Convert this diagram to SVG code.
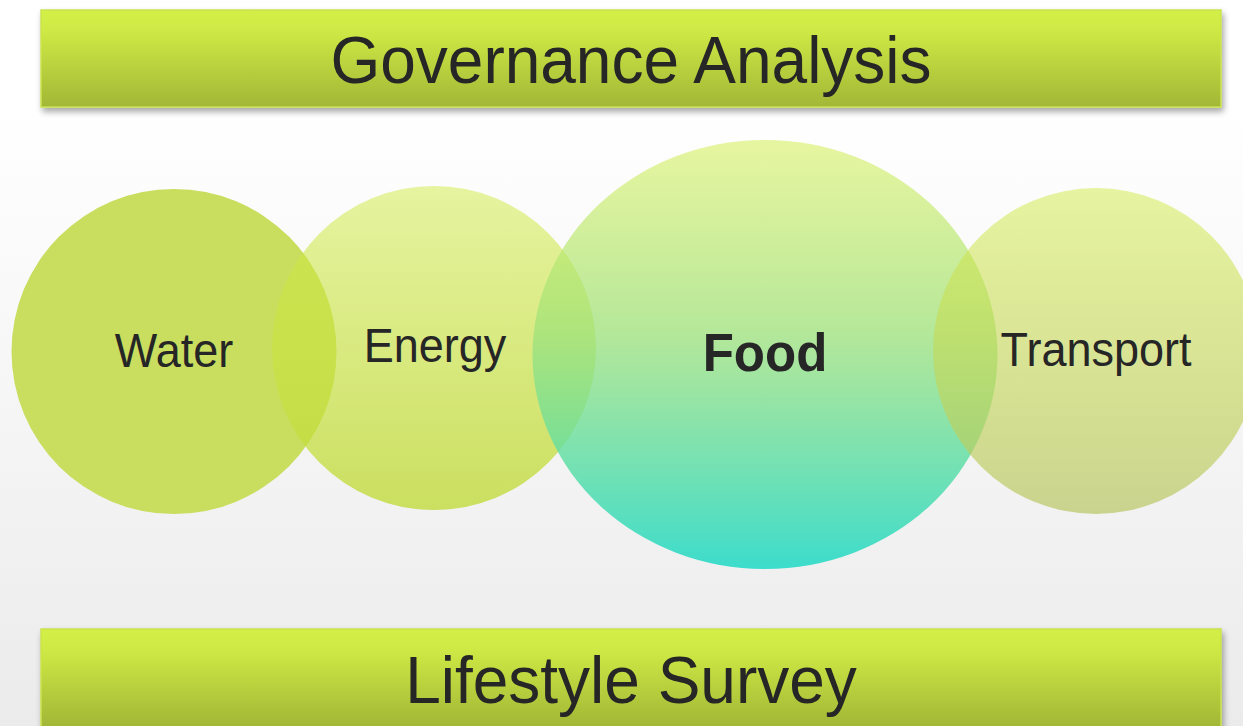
<svg xmlns="http://www.w3.org/2000/svg" width="1243" height="726" viewBox="0 0 1243 726">
  <defs>
    <linearGradient id="bg" x1="0" y1="0" x2="0" y2="1">
      <stop offset="0" stop-color="#ffffff"/>
      <stop offset="0.15" stop-color="#ffffff"/>
      <stop offset="1" stop-color="#ebebeb"/>
    </linearGradient>
    <linearGradient id="bar" x1="0" y1="0" x2="0" y2="1">
      <stop offset="0" stop-color="#d3ef46"/>
      <stop offset="0.2" stop-color="#cfea45"/>
      <stop offset="1" stop-color="#a2b736"/>
    </linearGradient>
    <linearGradient id="barB" x1="0" y1="629" x2="0" y2="726" gradientUnits="userSpaceOnUse">
      <stop offset="0" stop-color="#d3ef46"/>
      <stop offset="0.2" stop-color="#cfea45"/>
      <stop offset="1" stop-color="#a2b736"/>
    </linearGradient>
    <linearGradient id="gEnergy" x1="0" y1="0" x2="0" y2="1">
      <stop offset="0" stop-color="#d0ea44" stop-opacity="0.5"/>
      <stop offset="1" stop-color="#c1da3b" stop-opacity="0.8"/>
    </linearGradient>
    <linearGradient id="gFood" x1="0" y1="0" x2="0" y2="1">
      <stop offset="0" stop-color="#d7ef61" stop-opacity="0.6"/>
      <stop offset="0.45" stop-color="#9ee27a" stop-opacity="0.75"/>
      <stop offset="1" stop-color="#28dac8" stop-opacity="0.9"/>
    </linearGradient>
    <linearGradient id="gTransport" x1="0" y1="0" x2="0" y2="1">
      <stop offset="0" stop-color="#d0ea44" stop-opacity="0.5"/>
      <stop offset="1" stop-color="#b9c663" stop-opacity="0.7"/>
    </linearGradient>
    <filter id="shadow" x="-5%" y="-20%" width="110%" height="150%">
      <feDropShadow dx="2" dy="4" stdDeviation="3" flood-color="#000" flood-opacity="0.35"/>
    </filter>
  </defs>
  <style>
    .lbl { font-family: "Liberation Sans", Arial, sans-serif; fill: #262626; }
    .big { font-size: 64px; }
    .mid { font-size: 45px; }
    .bold { font-size: 51px; font-weight: bold; }
    .barrect { stroke: #c9e34f; stroke-width: 1.5; }
  </style>

  <rect x="0" y="0" width="1243" height="726" fill="url(#bg)"/>

  <g id="governance">
    <rect class="barrect" x="41" y="10" width="1180" height="97" fill="url(#bar)" filter="url(#shadow)"/>
    <text class="lbl big" text-anchor="middle" transform="translate(631,83) scale(1,1.04)">Governance Analysis</text>
  </g>

  <g id="water">
    <circle cx="174" cy="351.5" r="162.5" fill="#c9de5f"/>
    <text class="lbl mid" text-anchor="middle" transform="translate(174,367) scale(1,1.05)">Water</text>
  </g>

  <g id="energy">
    <circle cx="434" cy="348" r="162" fill="url(#gEnergy)"/>
    <text class="lbl mid" text-anchor="middle" transform="translate(435,362) scale(1,1.05)">Energy</text>
  </g>

  <g id="food">
    <ellipse cx="765" cy="354.5" rx="232.5" ry="214.5" fill="url(#gFood)"/>
    <text class="lbl bold" text-anchor="middle" transform="translate(765,371) scale(1,1.05)">Food</text>
  </g>

  <g id="transport">
    <circle cx="1096" cy="351" r="163" fill="url(#gTransport)"/>
    <text class="lbl mid" text-anchor="middle" transform="translate(1096,366) scale(1,1.05)">Transport</text>
  </g>

  <g id="connectors"></g>

  <g id="lifestyle">
    <rect class="barrect" x="41" y="629" width="1180" height="110" fill="url(#barB)" filter="url(#shadow)"/>
    <text class="lbl big" text-anchor="middle" transform="translate(631,703) scale(1,1.04)">Lifestyle Survey</text>
  </g>
</svg>
